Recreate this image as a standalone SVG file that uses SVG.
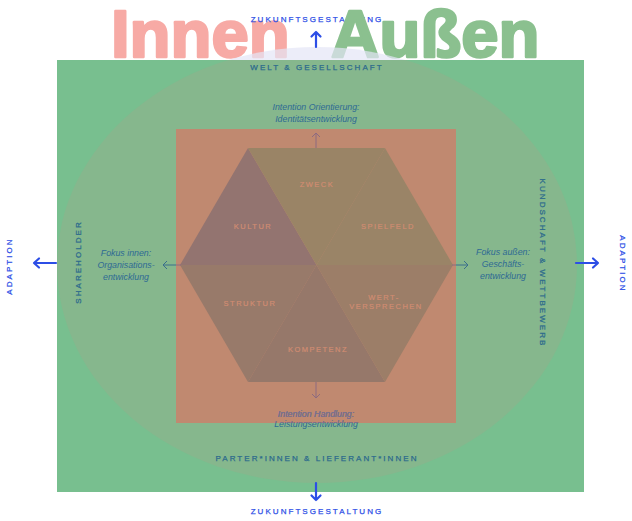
<svg xmlns="http://www.w3.org/2000/svg" width="632" height="521" viewBox="0 0 632 521">
<style>
.title{font-family:"Liberation Sans",Arial,sans-serif;font-weight:bold;font-size:67px;stroke-width:2.6;stroke-linejoin:round}
.cap{font-family:"Liberation Sans",Arial,sans-serif;font-size:8px;letter-spacing:2.05px;text-anchor:middle;stroke-width:0.25}
.blue{fill:#2c4ee6;stroke:#2c4ee6}
.teal{fill:#2c6a8c;stroke:#2c6a8c}
.it{font-family:"Liberation Sans",Arial,sans-serif;font-style:italic;font-size:8.8px;text-anchor:middle;fill:#2e6a94}
.hexl{font-family:"Liberation Sans",Arial,sans-serif;font-size:7.5px;letter-spacing:1.5px;text-anchor:middle;fill:#d08c72;stroke:#d08c72;stroke-width:0.2}
.big{fill:none;stroke:#2c4ee6;stroke-width:2.2;stroke-linecap:round;stroke-linejoin:round}
.small{fill:none;stroke:#3a6e8c;stroke-width:1}
.smallp{fill:none;stroke:#8c6a80;stroke-width:1}
</style>
<defs>
<clipPath id="rectclip"><rect x="57" y="60" width="527" height="432"/></clipPath>
<clipPath id="orangeclip"><rect x="176" y="129" width="280" height="294"/></clipPath>
</defs>

<g id="title-innen"><text class="title" x="111" y="57" fill="#f7aaa5" stroke="#f7aaa5">Innen</text></g>
<g id="top-label"><text class="cap blue" x="317" y="22">ZUKUNFTSGESTALTUNG</text></g>
<g id="title-aussen"><text class="title" x="331" y="57" fill="#8bc08f" stroke="#8bc08f">Außen</text></g>

<ellipse id="halo" cx="317" cy="265" rx="260" ry="218" fill="#e4e6f6" opacity="0.7"/>

<g id="welt">
<rect x="57" y="60" width="527" height="432" fill="#78bf8f"/>
<ellipse cx="317" cy="265" rx="260" ry="218" fill="#86b78d" clip-path="url(#rectclip)"/>
<text class="cap teal" x="317" y="70">WELT &amp; GESELLSCHAFT</text>
<text class="cap teal" x="317" y="461">PARTER*INNEN &amp; LIEFERANT*INNEN</text>
<text class="cap teal" transform="translate(81,262) rotate(-90)">SHAREHOLDER</text>
<text class="cap teal" transform="translate(540,263) rotate(90)">KUNDSCHAFT &amp; WETTBEWERB</text>
</g>

<g id="fokus-innen">
<text class="it" x="126" y="256">Fokus innen:</text>
<text class="it" x="126" y="268">Organisations-</text>
<text class="it" x="126" y="280">entwicklung</text>
</g>
<g id="fokus-aussen">
<text class="it" x="503" y="255">Fokus außen:</text>
<text class="it" x="503" y="267">Geschäfts-</text>
<text class="it" x="503" y="279">entwicklung</text>
</g>
<g id="intention-orientierung">
<text class="it" x="316" y="110">Intention Orientierung:</text>
<text class="it" x="316" y="122">Identitätsentwicklung</text>
</g>

<g id="unternehmen">
<rect x="176" y="129" width="280" height="294" fill="#c08970"/>
</g>

<g id="intention-handlung">
<text class="it" x="316" y="417">Intention Handlung:</text>
<text class="it" x="316" y="427">Leistungsentwicklung</text>
<g clip-path="url(#orangeclip)">
<text class="it" x="316" y="417" style="fill:#8d6f8c">Intention Handlung:</text>
<text class="it" x="316" y="427" style="fill:#8d6f8c">Leistungsentwicklung</text>
</g>
</g>

<g id="hexagon">
<polygon id="kultur-shape" points="248,148 180,265 316.5,265" fill="#937470"/>
<polygon id="zweck-shape" points="248,148 385,148 316.5,265" fill="#9a8466"/>
<polygon id="spielfeld-shape" points="385,148 453,265 316.5,265" fill="#9a8467"/>
<polygon id="struktur-shape" points="180,265 248,382 316.5,265" fill="#987a6a"/>
<polygon id="kompetenz-shape" points="248,382 385,382 316.5,265" fill="#96786a"/>
<polygon id="wert-shape" points="453,265 385,382 316.5,265" fill="#9c7e68"/>
</g>
<g id="zweck"><text class="hexl" x="317" y="187">ZWECK</text></g>
<g id="kultur"><text class="hexl" x="253" y="229">KULTUR</text></g>
<g id="spielfeld"><text class="hexl" x="388" y="229">SPIELFELD</text></g>
<g id="struktur"><text class="hexl" x="250" y="306">STRUKTUR</text></g>
<g id="wertversprechen"><text class="hexl" x="384" y="300">WERT-</text><text class="hexl" x="386" y="309">VERSPRECHEN</text></g>
<g id="kompetenz"><text class="hexl" x="318" y="352">KOMPETENZ</text></g>

<g id="adaption-left"><text class="cap blue" transform="translate(12,266) rotate(-90)">ADAPTION</text></g>
<g id="adaption-right"><text class="cap blue" transform="translate(620,264) rotate(90)">ADAPTION</text></g>
<g id="bottom-label"><text class="cap blue" x="317" y="514">ZUKUNFTSGESTALTUNG</text></g>

<g id="connectors">
<path class="big" d="M316,47 V32 M311.5,36.5 L316,32 L320.5,36.5"/>
<path class="big" d="M316,483 V500 M311.5,495.5 L316,500 L320.5,495.5"/>
<path class="big" d="M56,263 H34 M39,258.5 L34,263 L39,267.5"/>
<path class="big" d="M576,263 H598 M593,258.5 L598,263 L593,267.5"/>
<path class="small" d="M176,265 H163 M167,261 L163,265 L167,269"/>
<path class="smallp" d="M181,265 H176"/>
<path class="small" d="M456,265 H468 M464,261 L468,265 L464,269"/>
<path class="smallp" d="M452,265 H456"/>
<path class="smallp" d="M316,148 V133 M312,137 L316,133 L320,137"/>
<path class="smallp" d="M316,382 V398 M312,394 L316,398 L320,394"/>
</g>
</svg>
